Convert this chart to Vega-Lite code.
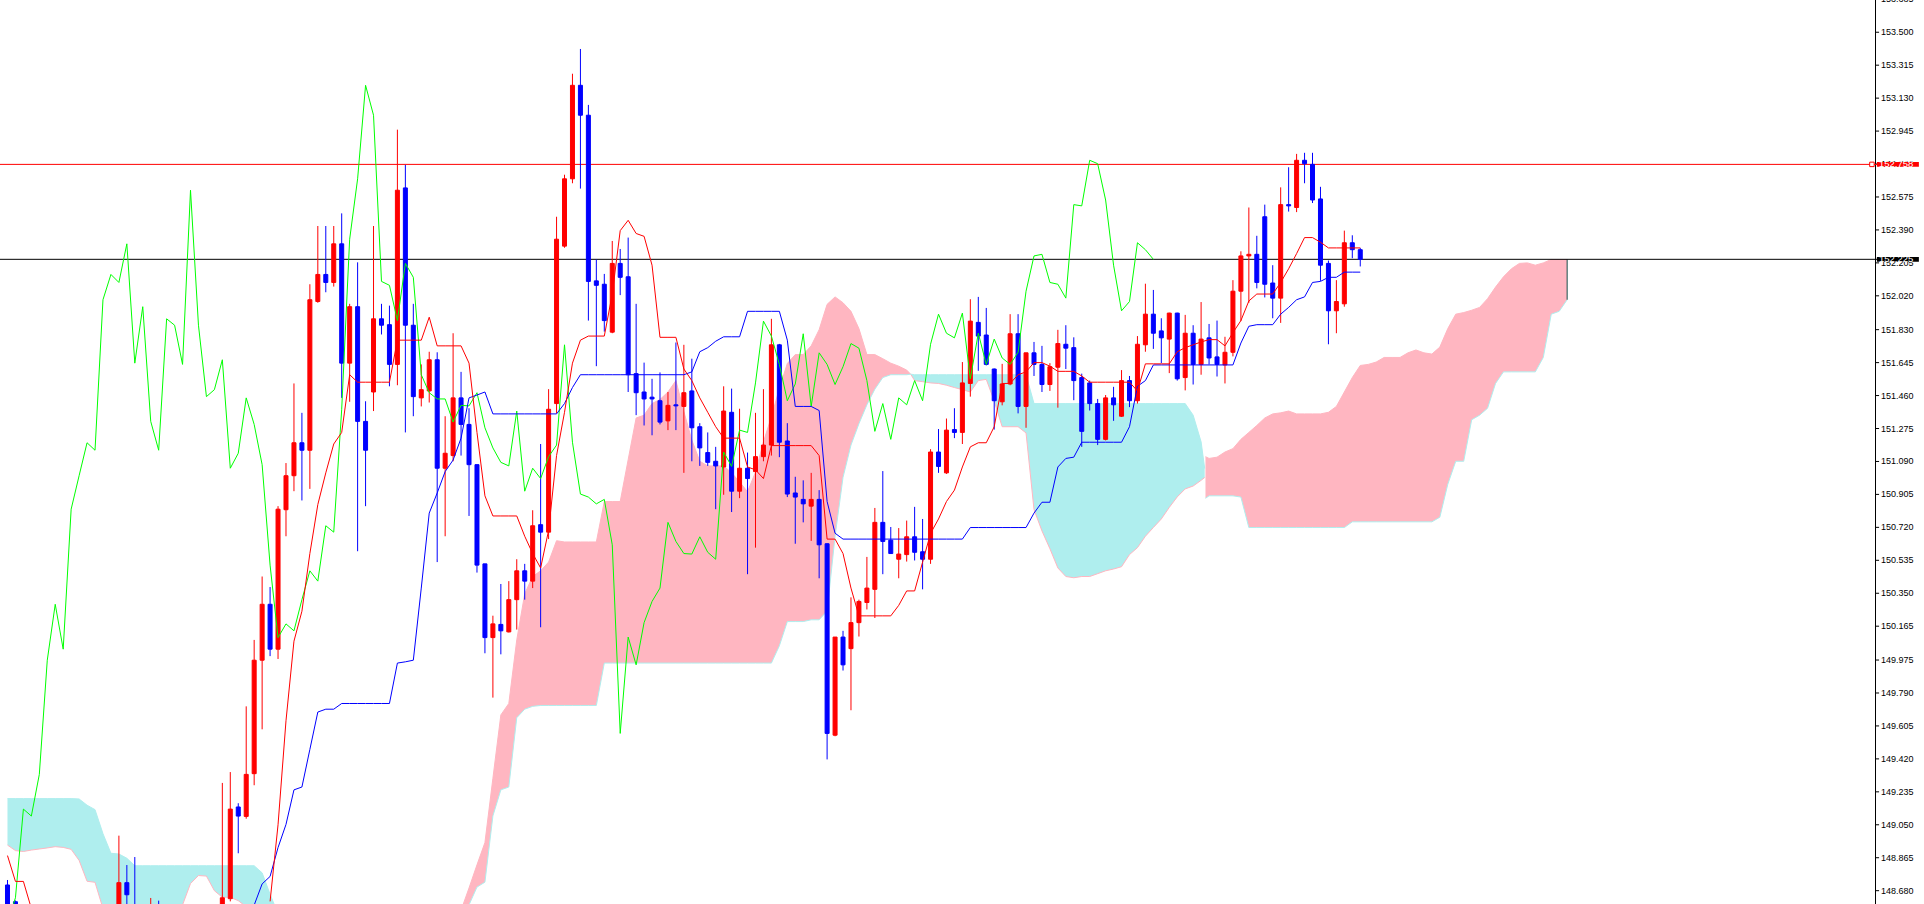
{
"$schema": "https://vega.github.io/schema/vega-lite/v6.json",
"width": 1881,
"height": 904,
"autosize": {"type": "none"},
"padding": {"left": 0, "top": 0, "right": 43, "bottom": 0},
"background": "#ffffff",
"config": {"view": {"stroke": null}},
"datasets": {
"cloud": [
{"seg":"t1","kind":"down","i":0,"A":148.936,"B":149.197},
{"seg":"t1","kind":"down","i":1,"A":148.905,"B":149.197},
{"seg":"t1","kind":"down","i":2,"A":148.9,"B":149.197},
{"seg":"t1","kind":"down","i":3,"A":148.908,"B":149.197},
{"seg":"t1","kind":"down","i":4,"A":148.914,"B":149.197},
{"seg":"t1","kind":"down","i":5,"A":148.92,"B":149.197},
{"seg":"t1","kind":"down","i":6,"A":148.927,"B":149.197},
{"seg":"t1","kind":"down","i":7,"A":148.923,"B":149.197},
{"seg":"t1","kind":"down","i":8,"A":148.912,"B":149.197},
{"seg":"t1","kind":"down","i":9,"A":148.85,"B":149.195},
{"seg":"t1","kind":"down","i":10,"A":148.733,"B":149.16},
{"seg":"t1","kind":"down","i":11,"A":148.727,"B":149.135},
{"seg":"t1","kind":"down","i":12,"A":148.58,"B":149.0},
{"seg":"t1","kind":"down","i":13,"A":148.55,"B":148.89},
{"seg":"t1","kind":"down","i":14,"A":148.55,"B":148.886},
{"seg":"t1","kind":"down","i":15,"A":148.55,"B":148.862},
{"seg":"t1","kind":"down","i":16,"A":148.55,"B":148.82},
{"seg":"t1","kind":"down","i":17,"A":148.55,"B":148.82},
{"seg":"t1","kind":"down","i":18,"A":148.55,"B":148.82},
{"seg":"t1","kind":"down","i":19,"A":148.55,"B":148.82},
{"seg":"t1","kind":"down","i":20,"A":148.55,"B":148.82},
{"seg":"t1","kind":"down","i":21,"A":148.55,"B":148.82},
{"seg":"t1","kind":"down","i":22,"A":148.6,"B":148.82},
{"seg":"t1","kind":"down","i":23,"A":148.72,"B":148.82},
{"seg":"t1","kind":"down","i":24,"A":148.765,"B":148.82},
{"seg":"t1","kind":"down","i":25,"A":148.762,"B":148.82},
{"seg":"t1","kind":"down","i":26,"A":148.68,"B":148.82},
{"seg":"t1","kind":"down","i":27,"A":148.643,"B":148.82},
{"seg":"t1","kind":"down","i":28,"A":148.643,"B":148.82},
{"seg":"t1","kind":"down","i":29,"A":148.624,"B":148.82},
{"seg":"t1","kind":"down","i":30,"A":148.59,"B":148.82},
{"seg":"t1","kind":"down","i":31,"A":148.56,"B":148.82},
{"seg":"t1","kind":"down","i":32,"A":148.53,"B":148.78},
{"seg":"t1","kind":"down","i":33,"A":148.5,"B":148.66},
{"seg":"t1","kind":"down","i":34,"A":148.45,"B":148.55},
{"seg":"p1","kind":"up","i":57,"A":148.57,"B":148.5},
{"seg":"p1","kind":"up","i":58,"A":148.695,"B":148.6},
{"seg":"p1","kind":"up","i":59,"A":148.825,"B":148.7},
{"seg":"p1","kind":"up","i":60,"A":148.95,"B":148.728},
{"seg":"p1","kind":"up","i":61,"A":149.311,"B":149.1},
{"seg":"p1","kind":"up","i":62,"A":149.667,"B":149.246},
{"seg":"p1","kind":"up","i":63,"A":149.731,"B":149.262},
{"seg":"p1","kind":"up","i":64,"A":150.088,"B":149.651},
{"seg":"p1","kind":"up","i":65,"A":150.347,"B":149.699},
{"seg":"p1","kind":"up","i":66,"A":150.444,"B":149.715},
{"seg":"p1","kind":"up","i":67,"A":150.476,"B":149.72},
{"seg":"p1","kind":"up","i":68,"A":150.525,"B":149.72},
{"seg":"p1","kind":"up","i":69,"A":150.645,"B":149.72},
{"seg":"p1","kind":"up","i":70,"A":150.638,"B":149.72},
{"seg":"p1","kind":"up","i":71,"A":150.638,"B":149.72},
{"seg":"p1","kind":"up","i":72,"A":150.638,"B":149.72},
{"seg":"p1","kind":"up","i":73,"A":150.638,"B":149.72},
{"seg":"p1","kind":"up","i":74,"A":150.638,"B":149.72},
{"seg":"p1","kind":"up","i":75,"A":150.865,"B":149.958},
{"seg":"p1","kind":"up","i":76,"A":150.865,"B":149.958},
{"seg":"p1","kind":"up","i":77,"A":150.865,"B":149.958},
{"seg":"p1","kind":"up","i":78,"A":151.1,"B":149.958},
{"seg":"p1","kind":"up","i":79,"A":151.334,"B":149.958},
{"seg":"p1","kind":"up","i":80,"A":151.35,"B":149.958},
{"seg":"p1","kind":"up","i":81,"A":151.415,"B":149.958},
{"seg":"p1","kind":"up","i":82,"A":151.438,"B":149.958},
{"seg":"p1","kind":"up","i":83,"A":151.48,"B":149.958},
{"seg":"p1","kind":"up","i":84,"A":151.544,"B":149.958},
{"seg":"p1","kind":"up","i":85,"A":151.37,"B":149.958},
{"seg":"p1","kind":"up","i":86,"A":151.21,"B":149.958},
{"seg":"p1","kind":"up","i":87,"A":151.091,"B":149.958},
{"seg":"p1","kind":"up","i":88,"A":151.065,"B":149.958},
{"seg":"p1","kind":"up","i":89,"A":151.065,"B":149.958},
{"seg":"p1","kind":"up","i":90,"A":151.065,"B":149.958},
{"seg":"p1","kind":"up","i":91,"A":151.026,"B":149.958},
{"seg":"p1","kind":"up","i":92,"A":150.975,"B":149.958},
{"seg":"p1","kind":"up","i":93,"A":150.92,"B":149.958},
{"seg":"p1","kind":"up","i":94,"A":151.03,"B":149.958},
{"seg":"p1","kind":"up","i":95,"A":151.2,"B":149.958},
{"seg":"p1","kind":"up","i":96,"A":151.34,"B":149.958},
{"seg":"p1","kind":"up","i":97,"A":151.5,"B":150.055},
{"seg":"p1","kind":"up","i":98,"A":151.64,"B":150.191},
{"seg":"p1","kind":"up","i":99,"A":151.69,"B":150.191},
{"seg":"p1","kind":"up","i":100,"A":151.69,"B":150.191},
{"seg":"p1","kind":"up","i":101,"A":151.739,"B":150.201},
{"seg":"p1","kind":"up","i":102,"A":151.83,"B":150.201},
{"seg":"p1","kind":"up","i":103,"A":151.972,"B":150.25},
{"seg":"p1","kind":"up","i":104,"A":152.014,"B":150.67},
{"seg":"p1","kind":"up","i":105,"A":151.981,"B":151.001},
{"seg":"p1","kind":"up","i":106,"A":151.933,"B":151.182},
{"seg":"p1","kind":"up","i":107,"A":151.836,"B":151.302},
{"seg":"p1","kind":"up","i":108,"A":151.69,"B":151.408},
{"seg":"p1","kind":"up","i":109,"A":151.69,"B":151.496},
{"seg":"p1","kind":"up","i":110,"A":151.667,"B":151.561},
{"seg":"p1","kind":"up","i":111,"A":151.642,"B":151.577},
{"seg":"p1","kind":"up","i":112,"A":151.625,"B":151.577},
{"seg":"p1","kind":"up","i":113,"A":151.603,"B":151.577},
{"seg":"p1","kind":"up","i":113.5,"A":151.58,"B":151.58},
{"seg":"t2","kind":"down","i":113.5,"A":151.58,"B":151.58},
{"seg":"t2","kind":"down","i":114,"A":151.544,"B":151.577},
{"seg":"t2","kind":"down","i":115,"A":151.538,"B":151.577},
{"seg":"t2","kind":"down","i":116,"A":151.531,"B":151.577},
{"seg":"t2","kind":"down","i":117,"A":151.528,"B":151.577},
{"seg":"t2","kind":"down","i":118,"A":151.518,"B":151.577},
{"seg":"t2","kind":"down","i":119,"A":151.505,"B":151.577},
{"seg":"t2","kind":"down","i":120,"A":151.493,"B":151.577},
{"seg":"t2","kind":"down","i":121,"A":151.48,"B":151.577},
{"seg":"t2","kind":"down","i":122,"A":151.544,"B":151.577},
{"seg":"t2","kind":"down","i":123,"A":151.551,"B":151.577},
{"seg":"t2","kind":"down","i":124,"A":151.43,"B":151.577},
{"seg":"t2","kind":"down","i":125,"A":151.285,"B":151.577},
{"seg":"t2","kind":"down","i":126,"A":151.285,"B":151.577},
{"seg":"t2","kind":"down","i":127,"A":151.285,"B":151.577},
{"seg":"t2","kind":"down","i":128,"A":151.25,"B":151.577},
{"seg":"t2","kind":"down","i":129,"A":150.82,"B":151.415},
{"seg":"t2","kind":"down","i":130,"A":150.7,"B":151.415},
{"seg":"t2","kind":"down","i":131,"A":150.6,"B":151.415},
{"seg":"t2","kind":"down","i":132,"A":150.492,"B":151.415},
{"seg":"t2","kind":"down","i":133,"A":150.444,"B":151.415},
{"seg":"t2","kind":"down","i":134,"A":150.437,"B":151.415},
{"seg":"t2","kind":"down","i":135,"A":150.444,"B":151.415},
{"seg":"t2","kind":"down","i":136,"A":150.444,"B":151.415},
{"seg":"t2","kind":"down","i":137,"A":150.46,"B":151.415},
{"seg":"t2","kind":"down","i":138,"A":150.476,"B":151.415},
{"seg":"t2","kind":"down","i":139,"A":150.486,"B":151.415},
{"seg":"t2","kind":"down","i":140,"A":150.499,"B":151.415},
{"seg":"t2","kind":"down","i":141,"A":150.567,"B":151.415},
{"seg":"t2","kind":"down","i":142,"A":150.606,"B":151.415},
{"seg":"t2","kind":"down","i":143,"A":150.67,"B":151.415},
{"seg":"t2","kind":"down","i":144,"A":150.719,"B":151.415},
{"seg":"t2","kind":"down","i":145,"A":150.767,"B":151.415},
{"seg":"t2","kind":"down","i":146,"A":150.832,"B":151.415},
{"seg":"t2","kind":"down","i":147,"A":150.891,"B":151.415},
{"seg":"t2","kind":"down","i":148,"A":150.936,"B":151.415},
{"seg":"t2","kind":"down","i":149,"A":150.952,"B":151.35},
{"seg":"t2","kind":"down","i":150,"A":150.984,"B":151.2},
{"seg":"t2","kind":"down","i":150.45,"A":151.0,"B":151.05},
{"seg":"p2","kind":"up","i":150.55,"A":151.117,"B":150.883},
{"seg":"p2","kind":"up","i":151,"A":151.107,"B":150.897},
{"seg":"p2","kind":"up","i":152,"A":151.114,"B":150.897},
{"seg":"p2","kind":"up","i":153,"A":151.143,"B":150.897},
{"seg":"p2","kind":"up","i":154,"A":151.162,"B":150.897},
{"seg":"p2","kind":"up","i":155,"A":151.214,"B":150.89},
{"seg":"p2","kind":"up","i":156,"A":151.253,"B":150.719},
{"seg":"p2","kind":"up","i":157,"A":151.292,"B":150.719},
{"seg":"p2","kind":"up","i":158,"A":151.334,"B":150.719},
{"seg":"p2","kind":"up","i":159,"A":151.357,"B":150.719},
{"seg":"p2","kind":"up","i":160,"A":151.363,"B":150.719},
{"seg":"p2","kind":"up","i":161,"A":151.373,"B":150.719},
{"seg":"p2","kind":"up","i":162,"A":151.357,"B":150.719},
{"seg":"p2","kind":"up","i":163,"A":151.357,"B":150.719},
{"seg":"p2","kind":"up","i":164,"A":151.357,"B":150.719},
{"seg":"p2","kind":"up","i":165,"A":151.357,"B":150.719},
{"seg":"p2","kind":"up","i":166,"A":151.366,"B":150.719},
{"seg":"p2","kind":"up","i":167,"A":151.399,"B":150.719},
{"seg":"p2","kind":"up","i":168,"A":151.48,"B":150.719},
{"seg":"p2","kind":"up","i":169,"A":151.561,"B":150.751},
{"seg":"p2","kind":"up","i":170,"A":151.629,"B":150.751},
{"seg":"p2","kind":"up","i":171,"A":151.635,"B":150.751},
{"seg":"p2","kind":"up","i":172,"A":151.648,"B":150.751},
{"seg":"p2","kind":"up","i":173,"A":151.674,"B":150.751},
{"seg":"p2","kind":"up","i":174,"A":151.674,"B":150.751},
{"seg":"p2","kind":"up","i":175,"A":151.674,"B":150.751},
{"seg":"p2","kind":"up","i":176,"A":151.7,"B":150.751},
{"seg":"p2","kind":"up","i":177,"A":151.716,"B":150.751},
{"seg":"p2","kind":"up","i":178,"A":151.7,"B":150.751},
{"seg":"p2","kind":"up","i":179,"A":151.693,"B":150.751},
{"seg":"p2","kind":"up","i":180,"A":151.732,"B":150.777},
{"seg":"p2","kind":"up","i":181,"A":151.836,"B":150.962},
{"seg":"p2","kind":"up","i":182,"A":151.917,"B":151.091},
{"seg":"p2","kind":"up","i":183,"A":151.926,"B":151.091},
{"seg":"p2","kind":"up","i":184,"A":151.939,"B":151.324},
{"seg":"p2","kind":"up","i":185,"A":151.955,"B":151.35},
{"seg":"p2","kind":"up","i":186,"A":152.004,"B":151.389},
{"seg":"p2","kind":"up","i":187,"A":152.069,"B":151.528},
{"seg":"p2","kind":"up","i":188,"A":152.127,"B":151.593},
{"seg":"p2","kind":"up","i":189,"A":152.172,"B":151.593},
{"seg":"p2","kind":"up","i":190,"A":152.202,"B":151.593},
{"seg":"p2","kind":"up","i":191,"A":152.205,"B":151.593},
{"seg":"p2","kind":"up","i":192,"A":152.192,"B":151.593},
{"seg":"p2","kind":"up","i":193,"A":152.205,"B":151.674},
{"seg":"p2","kind":"up","i":194,"A":152.224,"B":151.917},
{"seg":"p2","kind":"up","i":195,"A":152.224,"B":151.933},
{"seg":"p2","kind":"up","i":196,"A":152.224,"B":151.998}
],
"ind": [
{"i":0,"tk":148.877,"ck":148.5},
{"i":1,"tk":148.732,"ck":148.64},
{"i":2,"tk":148.732,"ck":149.138},
{"i":3,"tk":148.58,"ck":149.099},
{"i":4,"ck":149.333},
{"i":5,"ck":149.974},
{"i":6,"ck":150.288},
{"i":7,"ck":150.036},
{"i":8,"ck":150.822},
{"i":9,"ck":151.01},
{"i":10,"ck":151.195},
{"i":11,"ck":151.153},
{"i":12,"ck":151.998},
{"i":13,"ck":152.14},
{"i":14,"ck":152.095},
{"i":15,"ck":152.312},
{"i":16,"ck":151.642},
{"i":17,"ck":151.959},
{"i":18,"ck":151.315},
{"i":19,"ck":151.153},
{"i":20,"ck":151.891},
{"i":21,"ck":151.855},
{"i":22,"ck":151.635},
{"i":23,"ck":152.613},
{"i":24,"ck":151.855},
{"i":25,"ck":151.454},
{"i":26,"ck":151.493},
{"i":27,"ck":151.661},
{"i":28,"ck":151.052},
{"i":29,"ck":151.136},
{"i":30,"ck":151.447},
{"i":31,"kj":148.599,"ck":151.298},
{"i":32,"kj":148.718,"ck":151.072},
{"i":33,"tk":148.62,"kj":148.76,"ck":150.508},
{"i":34,"tk":149.05,"kj":148.922,"ck":150.101},
{"i":35,"tk":149.634,"kj":149.052,"ck":150.178},
{"i":36,"tk":150.081,"kj":149.246,"ck":150.139},
{"i":37,"tk":150.249,"kj":149.262,"ck":150.314},
{"i":38,"tk":150.573,"kj":149.473,"ck":150.476},
{"i":39,"tk":150.848,"kj":149.683,"ck":150.418},
{"i":40,"tk":151.026,"kj":149.699,"ck":150.729},
{"i":41,"tk":151.188,"kj":149.699,"ck":150.693},
{"i":42,"tk":151.253,"kj":149.731,"ck":151.383},
{"i":43,"tk":151.577,"kj":149.731,"ck":152.338},
{"i":44,"tk":151.535,"kj":149.731,"ck":152.677},
{"i":45,"tk":151.535,"kj":149.731,"ck":153.202},
{"i":46,"tk":151.535,"kj":149.731,"ck":153.034},
{"i":47,"tk":151.535,"kj":149.731,"ck":152.101},
{"i":48,"tk":151.535,"kj":149.731,"ck":152.079},
{"i":49,"tk":151.771,"kj":149.958,"ck":151.881},
{"i":50,"tk":151.771,"kj":149.965,"ck":152.202},
{"i":51,"tk":151.771,"kj":149.974,"ck":152.124},
{"i":52,"tk":151.771,"kj":150.379,"ck":151.577},
{"i":53,"tk":151.9,"kj":150.8,"ck":151.476},
{"i":54,"tk":151.739,"kj":150.913,"ck":151.441},
{"i":55,"tk":151.739,"kj":151.033,"ck":151.441},
{"i":56,"tk":151.739,"kj":151.098,"ck":151.311},
{"i":57,"tk":151.739,"kj":151.221,"ck":151.405},
{"i":58,"tk":151.642,"kj":151.447,"ck":151.402},
{"i":59,"tk":151.253,"kj":151.463,"ck":151.476},
{"i":60,"tk":150.897,"kj":151.48,"ck":151.279},
{"i":61,"tk":150.784,"kj":151.357,"ck":151.166},
{"i":62,"tk":150.784,"kj":151.357,"ck":151.085},
{"i":63,"tk":150.784,"kj":151.357,"ck":151.065},
{"i":64,"tk":150.784,"kj":151.357,"ck":151.373},
{"i":65,"tk":150.67,"kj":151.357,"ck":150.923},
{"i":66,"tk":150.573,"kj":151.357,"ck":151.052},
{"i":67,"tk":150.492,"kj":151.357,"ck":150.994},
{"i":68,"tk":150.703,"kj":151.357,"ck":151.117},
{"i":69,"tk":151.123,"kj":151.357,"ck":151.182},
{"i":70,"tk":151.366,"kj":151.415,"ck":151.745},
{"i":71,"tk":151.642,"kj":151.505,"ck":151.198},
{"i":72,"tk":151.771,"kj":151.577,"ck":150.907},
{"i":73,"tk":151.794,"kj":151.577,"ck":150.89},
{"i":74,"tk":151.794,"kj":151.577,"ck":150.852},
{"i":75,"tk":151.794,"kj":151.577,"ck":150.877},
{"i":76,"tk":152.03,"kj":151.577,"ck":150.622},
{"i":77,"tk":152.386,"kj":151.577,"ck":149.563},
{"i":78,"tk":152.444,"kj":151.577,"ck":150.104},
{"i":79,"tk":152.37,"kj":151.577,"ck":149.948},
{"i":80,"tk":152.354,"kj":151.577,"ck":150.185},
{"i":81,"tk":152.192,"kj":151.577,"ck":150.304},
{"i":82,"tk":151.787,"kj":151.577,"ck":150.379},
{"i":83,"tk":151.787,"kj":151.577,"ck":150.748},
{"i":84,"tk":151.787,"kj":151.577,"ck":150.641},
{"i":85,"tk":151.609,"kj":151.577,"ck":150.573},
{"i":86,"tk":151.544,"kj":151.593,"ck":150.57},
{"i":87,"tk":151.447,"kj":151.706,"ck":150.667},
{"i":88,"tk":151.366,"kj":151.729,"ck":150.58},
{"i":89,"tk":151.285,"kj":151.765,"ck":150.541},
{"i":90,"tk":151.221,"kj":151.79,"ck":151.143},
{"i":91,"tk":151.221,"kj":151.79,"ck":151.062},
{"i":92,"tk":151.221,"kj":151.79,"ck":151.266},
{"i":93,"tk":151.059,"kj":151.933,"ck":151.253},
{"i":94,"tk":151.043,"kj":151.933,"ck":151.531},
{"i":95,"tk":150.994,"kj":151.933,"ck":151.878},
{"i":96,"tk":151.179,"kj":151.933,"ck":151.794},
{"i":97,"tk":151.179,"kj":151.933,"ck":151.635},
{"i":98,"tk":151.179,"kj":151.771,"ck":151.431},
{"i":99,"tk":151.179,"kj":151.399,"ck":151.525},
{"i":100,"tk":151.179,"kj":151.399,"ck":151.807},
{"i":101,"tk":151.179,"kj":151.399,"ck":151.399},
{"i":102,"tk":151.123,"kj":151.376,"ck":151.7},
{"i":103,"tk":150.654,"kj":150.865,"ck":151.635},
{"i":104,"tk":150.654,"kj":150.687,"ck":151.522},
{"i":105,"tk":150.573,"kj":150.654,"ck":151.622},
{"i":106,"tk":150.379,"kj":150.654,"ck":151.752},
{"i":107,"tk":150.223,"kj":150.654,"ck":151.726},
{"i":108,"tk":150.223,"kj":150.654,"ck":151.544},
{"i":109,"tk":150.223,"kj":150.654,"ck":151.259},
{"i":110,"tk":150.223,"kj":150.654,"ck":151.415},
{"i":111,"tk":150.223,"kj":150.654,"ck":151.214},
{"i":112,"tk":150.282,"kj":150.654,"ck":151.447},
{"i":113,"tk":150.363,"kj":150.654,"ck":151.408},
{"i":114,"tk":150.363,"kj":150.654,"ck":151.544},
{"i":115,"tk":150.525,"kj":150.654,"ck":151.431},
{"i":116,"tk":150.686,"kj":150.654,"ck":151.748},
{"i":117,"tk":150.767,"kj":150.654,"ck":151.917},
{"i":118,"tk":150.865,"kj":150.654,"ck":151.81},
{"i":119,"tk":150.929,"kj":150.654,"ck":151.784},
{"i":120,"tk":151.059,"kj":150.654,"ck":151.923},
{"i":121,"tk":151.172,"kj":150.719,"ck":151.554},
{"i":122,"tk":151.195,"kj":150.719,"ck":151.81},
{"i":123,"tk":151.195,"kj":150.719,"ck":151.635},
{"i":124,"tk":151.285,"kj":150.719,"ck":151.777},
{"i":125,"tk":151.528,"kj":150.719,"ck":151.671},
{"i":126,"tk":151.528,"kj":150.719,"ck":151.635},
{"i":127,"tk":151.577,"kj":150.719,"ck":151.703},
{"i":128,"tk":151.593,"kj":150.719,"ck":152.046},
{"i":129,"tk":151.645,"kj":150.8,"ck":152.244},
{"i":130,"tk":151.645,"kj":150.861,"ck":152.253},
{"i":131,"tk":151.625,"kj":150.861,"ck":152.095},
{"i":132,"tk":151.596,"kj":151.059,"ck":152.085},
{"i":133,"tk":151.596,"kj":151.107,"ck":152.007},
{"i":134,"tk":151.596,"kj":151.114,"ck":152.532},
{"i":135,"tk":151.57,"kj":151.198,"ck":152.525},
{"i":136,"tk":151.535,"kj":151.198,"ck":152.781},
{"i":137,"tk":151.535,"kj":151.198,"ck":152.762},
{"i":138,"tk":151.535,"kj":151.198,"ck":152.558},
{"i":139,"tk":151.535,"kj":151.198,"ck":152.192},
{"i":140,"tk":151.535,"kj":151.198,"ck":151.936},
{"i":141,"tk":151.535,"kj":151.285,"ck":151.988},
{"i":142,"tk":151.486,"kj":151.512,"ck":152.318},
{"i":143,"tk":151.638,"kj":151.544,"ck":152.279},
{"i":144,"tk":151.638,"kj":151.632,"ck":152.225},
{"i":145,"tk":151.638,"kj":151.632},
{"i":146,"tk":151.638,"kj":151.632},
{"i":147,"tk":151.706,"kj":151.632},
{"i":148,"tk":151.729,"kj":151.632},
{"i":149,"tk":151.745,"kj":151.632},
{"i":150,"tk":151.761,"kj":151.632},
{"i":151,"tk":151.774,"kj":151.632},
{"i":152,"tk":151.774,"kj":151.632},
{"i":153,"tk":151.739,"kj":151.632},
{"i":154,"tk":151.813,"kj":151.632},
{"i":155,"tk":151.881,"kj":151.755},
{"i":156,"tk":151.991,"kj":151.849},
{"i":157,"tk":152.03,"kj":151.858},
{"i":158,"tk":152.03,"kj":151.858},
{"i":159,"tk":152.03,"kj":151.858},
{"i":160,"tk":152.095,"kj":151.917},
{"i":161,"tk":152.172,"kj":151.955},
{"i":162,"tk":152.257,"kj":151.998},
{"i":163,"tk":152.347,"kj":152.014},
{"i":164,"tk":152.347,"kj":152.095},
{"i":165,"tk":152.321,"kj":152.101},
{"i":166,"tk":152.289,"kj":152.124},
{"i":167,"tk":152.289,"kj":152.124},
{"i":168,"tk":152.289,"kj":152.153},
{"i":169,"tk":152.289,"kj":152.153},
{"i":170,"tk":152.289,"kj":152.153}
],
"bars": [
{"i":0,"o":148.712,"h":148.74,"l":148.45,"c":148.52},
{"i":1,"o":148.618,"h":148.625,"l":148.4,"c":148.5},
{"i":14,"o":148.45,"h":148.989,"l":148.4,"c":148.725},
{"i":15,"o":148.725,"h":148.824,"l":148.5,"c":148.657},
{"i":16,"o":148.58,"h":148.869,"l":148.4,"c":148.5},
{"i":18,"o":148.45,"h":148.639,"l":148.4,"c":148.55},
{"i":19,"o":148.56,"h":148.624,"l":148.4,"c":148.48},
{"i":27,"o":148.5,"h":149.285,"l":148.45,"c":148.64},
{"i":28,"o":148.635,"h":149.346,"l":148.62,"c":149.138},
{"i":29,"o":149.15,"h":149.171,"l":148.89,"c":149.099},
{"i":30,"o":149.097,"h":149.715,"l":149.084,"c":149.333},
{"i":31,"o":149.337,"h":150.088,"l":149.272,"c":149.974},
{"i":32,"o":149.974,"h":150.444,"l":149.586,"c":150.288},
{"i":33,"o":150.288,"h":150.385,"l":149.997,"c":150.036},
{"i":34,"o":150.036,"h":150.839,"l":149.981,"c":150.822},
{"i":35,"o":150.819,"h":151.081,"l":150.67,"c":151.01},
{"i":36,"o":151.01,"h":151.528,"l":150.923,"c":151.195},
{"i":37,"o":151.195,"h":151.363,"l":150.871,"c":151.153},
{"i":38,"o":151.153,"h":152.085,"l":150.936,"c":151.998},
{"i":39,"o":151.988,"h":152.412,"l":151.981,"c":152.14},
{"i":40,"o":152.14,"h":152.412,"l":152.04,"c":152.095},
{"i":41,"o":152.095,"h":152.412,"l":152.072,"c":152.312},
{"i":42,"o":152.312,"h":152.483,"l":151.447,"c":151.642},
{"i":43,"o":151.642,"h":151.975,"l":151.425,"c":151.959},
{"i":44,"o":151.959,"h":152.208,"l":150.586,"c":151.315},
{"i":45,"o":151.315,"h":151.428,"l":150.839,"c":151.153},
{"i":46,"o":151.48,"h":152.412,"l":151.373,"c":151.891},
{"i":47,"o":151.891,"h":151.975,"l":151.803,"c":151.855},
{"i":48,"o":151.858,"h":151.965,"l":151.512,"c":151.635},
{"i":49,"o":151.635,"h":152.953,"l":151.518,"c":152.613},
{"i":50,"o":152.626,"h":152.755,"l":151.253,"c":151.855},
{"i":51,"o":151.855,"h":151.975,"l":151.344,"c":151.454},
{"i":52,"o":151.447,"h":151.635,"l":151.399,"c":151.493},
{"i":53,"o":151.486,"h":151.706,"l":151.421,"c":151.661},
{"i":54,"o":151.661,"h":151.703,"l":150.525,"c":151.052},
{"i":55,"o":151.052,"h":151.344,"l":150.67,"c":151.136},
{"i":56,"o":151.123,"h":151.81,"l":151.091,"c":151.447},
{"i":57,"o":151.447,"h":151.593,"l":151.123,"c":151.298},
{"i":58,"o":151.298,"h":151.389,"l":150.784,"c":151.072},
{"i":59,"o":151.072,"h":151.072,"l":150.466,"c":150.508},
{"i":60,"o":150.515,"h":150.515,"l":150.013,"c":150.101},
{"i":61,"o":150.101,"h":150.224,"l":149.764,"c":150.178},
{"i":62,"o":150.175,"h":150.402,"l":150.007,"c":150.139},
{"i":63,"o":150.133,"h":150.418,"l":150.13,"c":150.314},
{"i":64,"o":150.314,"h":150.541,"l":150.146,"c":150.476},
{"i":65,"o":150.476,"h":150.515,"l":150.314,"c":150.418},
{"i":66,"o":150.418,"h":150.816,"l":150.379,"c":150.729},
{"i":67,"o":150.735,"h":151.188,"l":150.159,"c":150.693},
{"i":68,"o":150.693,"h":151.496,"l":150.654,"c":151.383},
{"i":69,"o":151.415,"h":152.464,"l":151.36,"c":152.338},
{"i":70,"o":152.299,"h":152.7,"l":152.29,"c":152.677},
{"i":71,"o":152.677,"h":153.267,"l":152.652,"c":153.202},
{"i":72,"o":153.202,"h":153.406,"l":152.622,"c":153.034},
{"i":73,"o":153.034,"h":153.092,"l":151.881,"c":152.101},
{"i":74,"o":152.104,"h":152.224,"l":151.625,"c":152.079},
{"i":75,"o":152.085,"h":152.143,"l":151.819,"c":151.881},
{"i":76,"o":151.816,"h":152.328,"l":151.81,"c":152.202},
{"i":77,"o":152.202,"h":152.283,"l":152.024,"c":152.124},
{"i":78,"o":152.127,"h":152.347,"l":151.48,"c":151.577},
{"i":79,"o":151.583,"h":151.975,"l":151.35,"c":151.476},
{"i":80,"o":151.48,"h":151.645,"l":151.292,"c":151.441},
{"i":81,"o":151.451,"h":151.554,"l":151.237,"c":151.441},
{"i":82,"o":151.431,"h":151.59,"l":151.298,"c":151.311},
{"i":83,"o":151.318,"h":151.48,"l":151.266,"c":151.405},
{"i":84,"o":151.408,"h":151.758,"l":151.266,"c":151.402},
{"i":85,"o":151.399,"h":151.745,"l":151.026,"c":151.476},
{"i":86,"o":151.486,"h":151.667,"l":151.091,"c":151.279},
{"i":87,"o":151.285,"h":151.305,"l":151.065,"c":151.166},
{"i":88,"o":151.14,"h":151.253,"l":151.065,"c":151.085},
{"i":89,"o":151.091,"h":151.172,"l":150.822,"c":151.065},
{"i":90,"o":151.059,"h":151.512,"l":150.903,"c":151.373},
{"i":91,"o":151.366,"h":151.499,"l":150.806,"c":150.923},
{"i":92,"o":150.923,"h":151.386,"l":150.884,"c":151.052},
{"i":93,"o":151.052,"h":151.14,"l":150.457,"c":150.994},
{"i":94,"o":151.033,"h":151.363,"l":150.606,"c":151.117},
{"i":95,"o":151.117,"h":151.496,"l":151.091,"c":151.182},
{"i":96,"o":151.182,"h":151.891,"l":151.123,"c":151.745},
{"i":97,"o":151.745,"h":151.75,"l":151.114,"c":151.198},
{"i":98,"o":151.205,"h":151.305,"l":150.89,"c":150.907},
{"i":99,"o":150.913,"h":151.004,"l":150.628,"c":150.89},
{"i":100,"o":150.877,"h":150.984,"l":150.748,"c":150.852},
{"i":101,"o":150.839,"h":151.026,"l":150.644,"c":150.877},
{"i":102,"o":150.877,"h":150.929,"l":150.434,"c":150.622},
{"i":103,"o":150.628,"h":150.63,"l":149.417,"c":149.563},
{"i":104,"o":149.553,"h":150.104,"l":149.547,"c":150.104},
{"i":105,"o":150.104,"h":150.139,"l":149.916,"c":149.948},
{"i":106,"o":150.039,"h":150.327,"l":149.693,"c":150.185},
{"i":107,"o":150.185,"h":150.314,"l":150.107,"c":150.304},
{"i":108,"o":150.298,"h":150.554,"l":150.259,"c":150.379},
{"i":109,"o":150.372,"h":150.829,"l":150.211,"c":150.748},
{"i":110,"o":150.748,"h":151.036,"l":150.457,"c":150.641},
{"i":111,"o":150.648,"h":150.722,"l":150.573,"c":150.573},
{"i":112,"o":150.541,"h":150.716,"l":150.434,"c":150.57},
{"i":113,"o":150.567,"h":150.758,"l":150.528,"c":150.667},
{"i":114,"o":150.667,"h":150.835,"l":150.534,"c":150.58},
{"i":115,"o":150.583,"h":150.767,"l":150.372,"c":150.541},
{"i":116,"o":150.541,"h":151.159,"l":150.515,"c":151.143},
{"i":117,"o":151.143,"h":151.272,"l":151.026,"c":151.062},
{"i":118,"o":151.026,"h":151.331,"l":151.02,"c":151.266},
{"i":119,"o":151.269,"h":151.389,"l":151.221,"c":151.253},
{"i":120,"o":151.253,"h":151.648,"l":151.188,"c":151.531},
{"i":121,"o":151.528,"h":152.001,"l":151.454,"c":151.878},
{"i":122,"o":151.871,"h":152.014,"l":151.599,"c":151.794},
{"i":123,"o":151.8,"h":151.952,"l":151.629,"c":151.635},
{"i":124,"o":151.609,"h":151.612,"l":151.269,"c":151.431},
{"i":125,"o":151.425,"h":151.638,"l":151.405,"c":151.525},
{"i":126,"o":151.525,"h":151.917,"l":151.518,"c":151.807},
{"i":127,"o":151.807,"h":151.917,"l":151.36,"c":151.399},
{"i":128,"o":151.399,"h":151.7,"l":151.279,"c":151.7},
{"i":129,"o":151.7,"h":151.761,"l":151.57,"c":151.635},
{"i":130,"o":151.635,"h":151.739,"l":151.48,"c":151.522},
{"i":131,"o":151.522,"h":151.642,"l":151.486,"c":151.622},
{"i":132,"o":151.619,"h":151.829,"l":151.392,"c":151.752},
{"i":133,"o":151.748,"h":151.855,"l":151.609,"c":151.726},
{"i":134,"o":151.729,"h":151.787,"l":151.434,"c":151.544},
{"i":135,"o":151.561,"h":151.583,"l":151.172,"c":151.259},
{"i":136,"o":151.531,"h":151.544,"l":151.376,"c":151.415},
{"i":137,"o":151.415,"h":151.441,"l":151.182,"c":151.214},
{"i":138,"o":151.214,"h":151.463,"l":151.208,"c":151.447},
{"i":139,"o":151.447,"h":151.509,"l":151.318,"c":151.408},
{"i":140,"o":151.344,"h":151.603,"l":151.34,"c":151.544},
{"i":141,"o":151.544,"h":151.57,"l":151.395,"c":151.431},
{"i":142,"o":151.431,"h":151.794,"l":151.415,"c":151.748},
{"i":143,"o":151.745,"h":152.088,"l":151.706,"c":151.917},
{"i":144,"o":151.917,"h":152.053,"l":151.722,"c":151.81},
{"i":145,"o":151.823,"h":151.894,"l":151.642,"c":151.784},
{"i":146,"o":151.777,"h":151.925,"l":151.586,"c":151.923},
{"i":147,"o":151.923,"h":151.925,"l":151.544,"c":151.554},
{"i":148,"o":151.561,"h":151.913,"l":151.489,"c":151.81},
{"i":149,"o":151.81,"h":151.855,"l":151.522,"c":151.635},
{"i":150,"o":151.635,"h":151.985,"l":151.577,"c":151.777},
{"i":151,"o":151.784,"h":151.862,"l":151.635,"c":151.671},
{"i":152,"o":151.677,"h":151.881,"l":151.567,"c":151.635},
{"i":153,"o":151.632,"h":151.79,"l":151.528,"c":151.703},
{"i":154,"o":151.703,"h":152.108,"l":151.68,"c":152.046},
{"i":155,"o":152.046,"h":152.27,"l":151.878,"c":152.244},
{"i":156,"o":152.244,"h":152.516,"l":151.981,"c":152.253},
{"i":157,"o":152.253,"h":152.357,"l":152.062,"c":152.095},
{"i":158,"o":152.464,"h":152.532,"l":152.011,"c":152.085},
{"i":159,"o":152.092,"h":152.192,"l":151.894,"c":152.007},
{"i":160,"o":152.007,"h":152.629,"l":151.868,"c":152.532},
{"i":161,"o":152.532,"h":152.742,"l":152.493,"c":152.525},
{"i":162,"o":152.516,"h":152.817,"l":152.49,"c":152.781},
{"i":163,"o":152.781,"h":152.823,"l":152.652,"c":152.762},
{"i":164,"o":152.758,"h":152.823,"l":152.541,"c":152.558},
{"i":165,"o":152.564,"h":152.632,"l":152.104,"c":152.192},
{"i":166,"o":152.202,"h":152.218,"l":151.748,"c":151.936},
{"i":167,"o":151.936,"h":152.108,"l":151.81,"c":151.988},
{"i":168,"o":151.975,"h":152.386,"l":151.959,"c":152.318},
{"i":169,"o":152.318,"h":152.36,"l":152.231,"c":152.279},
{"i":170,"o":152.279,"h":152.289,"l":152.185,"c":152.225}
],
"redlvl": [{"p":152.758,"t":"152.758"}],
"bidlvl": [{"p":152.225,"t":"152.225"}],
"edge": [{"i":196,"a":152.224,"b":151.998}],
"ticks": [{"v":148.68},{"v":148.865},{"v":149.05},{"v":149.235},{"v":149.42},{"v":149.605},{"v":149.79},{"v":149.975},{"v":150.165},{"v":150.35},{"v":150.535},{"v":150.72},{"v":150.905},{"v":151.09},{"v":151.275},{"v":151.46},{"v":151.645},{"v":151.83},{"v":152.02},{"v":152.205},{"v":152.39},{"v":152.575},{"v":152.76},{"v":152.945},{"v":153.13},{"v":153.315},{"v":153.5},{"v":153.685}]
},
"layer": [
{"data":{"name":"ticks"},
 "mark":{"type":"rule","strokeWidth":1,"color":"#000000"},
 "encoding":{
  "x":{"datum":234.8125,"type":"quantitative","scale":{"domain":[-0.3125,234.8125],"nice":false,"zero":false},"axis":null},
  "x2":{"datum":235.2},
  "y":{"field":"v","type":"quantitative","scale":{"domain":[148.6052,153.681],"nice":false,"zero":false},"axis":null}
 }},
{"data":{"name":"ticks"},
 "mark":{"type":"text","align":"left","baseline":"middle","font":"Liberation Sans","fontSize":9,"color":"#000000"},
 "encoding":{
  "x":{"datum":235.4375,"type":"quantitative","scale":{"domain":[-0.3125,234.8125],"nice":false,"zero":false},"axis":null},
  "y":{"field":"v","type":"quantitative","scale":{"domain":[148.6052,153.681],"nice":false,"zero":false},"axis":null},
  "text":{"field":"v","type":"quantitative","format":".3f"}
 }},
{"data":{"name":"edge"},
 "mark":{"type":"rule","strokeWidth":1,"color":"#000000"},
 "encoding":{
  "x":{"datum":234.75,"type":"quantitative","scale":{"domain":[-0.3125,234.8125],"nice":false,"zero":false},"axis":null},
  "y":{"datum":148.6052,"type":"quantitative","scale":{"domain":[148.6052,153.681],"nice":false,"zero":false},"axis":null},
  "y2":{"datum":153.681}
 }},
{"data":{"name":"cloud"},
 "mark":{"type":"area","clip":true},
 "encoding":{
  "x":{"field":"i","type":"quantitative","scale":{"domain":[-0.3125,234.8125],"nice":false,"zero":false},"axis":null},
  "y":{"field":"A","type":"quantitative","scale":{"domain":[148.6052,153.681],"nice":false,"zero":false},"axis":null},
  "y2":{"field":"B"},
  "detail":{"field":"seg"},
  "color":{"field":"kind","type":"nominal","scale":{"domain":["up","down"],"range":["#FFB6C1","#AFEEEE"]},"legend":null}
 }},
{"data":{"name":"cloud"},
 "mark":{"type":"line","clip":true,"strokeWidth":1,"color":"#FFB6C1"},
 "encoding":{
  "x":{"field":"i","type":"quantitative","scale":{"domain":[-0.3125,234.8125],"nice":false,"zero":false},"axis":null},
  "y":{"field":"A","type":"quantitative","scale":{"domain":[148.6052,153.681],"nice":false,"zero":false},"axis":null},
  "detail":{"field":"seg"}
 }},
{"data":{"name":"cloud"},
 "mark":{"type":"line","clip":true,"strokeWidth":1,"color":"#AFEEEE"},
 "encoding":{
  "x":{"field":"i","type":"quantitative","scale":{"domain":[-0.3125,234.8125],"nice":false,"zero":false},"axis":null},
  "y":{"field":"B","type":"quantitative","scale":{"domain":[148.6052,153.681],"nice":false,"zero":false},"axis":null},
  "detail":{"field":"seg"}
 }},
{"data":{"name":"edge"},
 "mark":{"type":"rule","strokeWidth":1,"color":"#174f49"},
 "encoding":{
  "x":{"field":"i","type":"quantitative","scale":{"domain":[-0.3125,234.8125],"nice":false,"zero":false},"axis":null},
  "y":{"field":"a","type":"quantitative","scale":{"domain":[148.6052,153.681],"nice":false,"zero":false},"axis":null},
  "y2":{"field":"b"}
 }},
{"data":{"name":"redlvl"},
 "mark":{"type":"rule","strokeWidth":1,"color":"#FF0000"},
 "encoding":{
  "y":{"field":"p","type":"quantitative","scale":{"domain":[148.6052,153.681],"nice":false,"zero":false},"axis":null}
 }},
{"data":{"name":"bidlvl"},
 "mark":{"type":"rule","strokeWidth":1,"color":"#000000"},
 "encoding":{
  "y":{"field":"p","type":"quantitative","scale":{"domain":[148.6052,153.681],"nice":false,"zero":false},"axis":null}
 }},
{"data":{"name":"bars"},
 "mark":{"type":"rule","strokeWidth":1,"clip":true},
 "encoding":{
  "x":{"field":"i","type":"quantitative","scale":{"domain":[-0.3125,234.8125],"nice":false,"zero":false},"axis":null},
  "y":{"field":"l","type":"quantitative","scale":{"domain":[148.6052,153.681],"nice":false,"zero":false},"axis":null},
  "y2":{"field":"h"},
  "stroke":{"condition":{"test":"datum.c >= datum.o","value":"#FF0000"},"value":"#0000FF"}
 }},
{"data":{"name":"bars"},
 "mark":{"type":"bar","width":4,"strokeWidth":1,"clip":true},
 "encoding":{
  "x":{"field":"i","type":"quantitative","scale":{"domain":[-0.3125,234.8125],"nice":false,"zero":false},"axis":null},
  "y":{"field":"o","type":"quantitative","scale":{"domain":[148.6052,153.681],"nice":false,"zero":false},"axis":null},
  "y2":{"field":"c"},
  "fill":{"condition":{"test":"datum.c >= datum.o","value":"#FF0000"},"value":"#0000FF"},
  "stroke":{"condition":{"test":"datum.c >= datum.o","value":"#FF0000"},"value":"#0000FF"}
 }},
{"data":{"name":"ind"},
 "mark":{"type":"line","clip":true,"strokeWidth":1,"color":"#00FF00","invalid":"break-paths-filter-domains"},
 "encoding":{
  "x":{"field":"i","type":"quantitative","scale":{"domain":[-0.3125,234.8125],"nice":false,"zero":false},"axis":null},
  "y":{"field":"ck","type":"quantitative","scale":{"domain":[148.6052,153.681],"nice":false,"zero":false},"axis":null}
 }},
{"data":{"name":"ind"},
 "mark":{"type":"line","clip":true,"strokeWidth":1,"color":"#0000FF","invalid":"break-paths-filter-domains"},
 "encoding":{
  "x":{"field":"i","type":"quantitative","scale":{"domain":[-0.3125,234.8125],"nice":false,"zero":false},"axis":null},
  "y":{"field":"kj","type":"quantitative","scale":{"domain":[148.6052,153.681],"nice":false,"zero":false},"axis":null}
 }},
{"data":{"name":"ind"},
 "mark":{"type":"line","clip":true,"strokeWidth":1,"color":"#FF0000","invalid":"break-paths-filter-domains"},
 "encoding":{
  "x":{"field":"i","type":"quantitative","scale":{"domain":[-0.3125,234.8125],"nice":false,"zero":false},"axis":null},
  "y":{"field":"tk","type":"quantitative","scale":{"domain":[148.6052,153.681],"nice":false,"zero":false},"axis":null}
 }},
{"data":{"name":"redlvl"},
 "mark":{"type":"point","shape":"square","size":20,"filled":true,"fill":"#FFFFFF","stroke":"#FF0000","strokeWidth":1,"opacity":1},
 "encoding":{
  "x":{"datum":234.3,"type":"quantitative","scale":{"domain":[-0.3125,234.8125],"nice":false,"zero":false},"axis":null},
  "y":{"field":"p","type":"quantitative","scale":{"domain":[148.6052,153.681],"nice":false,"zero":false},"axis":null}
 }},
{"data":{"name":"redlvl"},
 "mark":{"type":"point","shape":"M-1,-0.115H1V0.115H-1Z","size":1764,"filled":true,"fill":"#FF0000","strokeWidth":0,"opacity":1},
 "encoding":{
  "x":{"datum":237.5625,"type":"quantitative","scale":{"domain":[-0.3125,234.8125],"nice":false,"zero":false},"axis":null},
  "y":{"field":"p","type":"quantitative","scale":{"domain":[148.6052,153.681],"nice":false,"zero":false},"axis":null}
 }},
{"data":{"name":"bidlvl"},
 "mark":{"type":"point","shape":"M-1,-0.115H1V0.115H-1Z","size":1764,"filled":true,"fill":"#000000","strokeWidth":0,"opacity":1},
 "encoding":{
  "x":{"datum":237.5625,"type":"quantitative","scale":{"domain":[-0.3125,234.8125],"nice":false,"zero":false},"axis":null},
  "y":{"field":"p","type":"quantitative","scale":{"domain":[148.6052,153.681],"nice":false,"zero":false},"axis":null}
 }},
{"data":{"name":"redlvl"},
 "mark":{"type":"text","align":"left","baseline":"middle","font":"Liberation Sans","fontSize":9.5,"color":"#FFFFFF"},
 "encoding":{
  "x":{"datum":235.1875,"type":"quantitative","scale":{"domain":[-0.3125,234.8125],"nice":false,"zero":false},"axis":null},
  "y":{"field":"p","type":"quantitative","scale":{"domain":[148.6052,153.681],"nice":false,"zero":false},"axis":null},
  "text":{"field":"t"}
 }},
{"data":{"name":"bidlvl"},
 "mark":{"type":"text","align":"left","baseline":"middle","font":"Liberation Sans","fontSize":9.5,"color":"#FFFFFF"},
 "encoding":{
  "x":{"datum":235.1875,"type":"quantitative","scale":{"domain":[-0.3125,234.8125],"nice":false,"zero":false},"axis":null},
  "y":{"field":"p","type":"quantitative","scale":{"domain":[148.6052,153.681],"nice":false,"zero":false},"axis":null},
  "text":{"field":"t"}
 }}
]
}
